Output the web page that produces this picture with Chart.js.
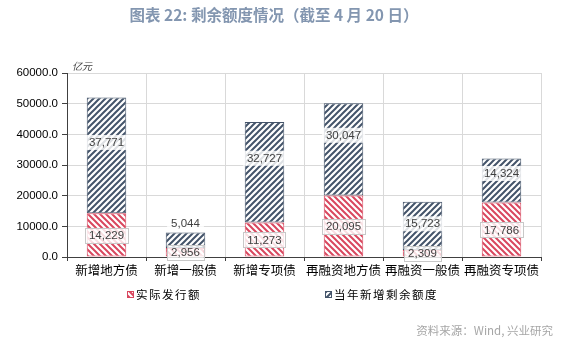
<!DOCTYPE html>
<html>
<head>
<meta charset="utf-8">
<script src="https://cdn.jsdelivr.net/npm/chart.js@4/dist/chart.umd.min.js"></script>
<style>
  html, body { margin: 0; padding: 0; background: #fff; }
  #wrap { width: 566px; height: 342px; position: relative; }
</style>
</head>
<body>
<div id="wrap"><canvas id="c" width="566" height="342"></canvas></div>
<script>
// Remaining local-government bond quota (亿元)
const categories = ['新增地方债', '新增一般债', '新增专项债', '再融资地方债', '再融资一般债', '再融资专项债'];
const issued = [14229, 2956, 11273, 20095, 2309, 17786];          // 实际发行额
const remaining = [37771, 5044, 32727, 30047, 15723, 14324];     // 当年新增剩余额度
const seriesNames = ['实际发行额', '当年新增剩余额度'];
const titleText = '图表 22: 剩余额度情况（截至 4 月 20 日）';
const unitText = '亿元';
const sourceText = '资料来源：Wind, 兴业研究';

// vertical nudges (px) for the upper-segment value labels
const remainingLabelShift = [-13, 0, -14, -14, -2, -7];

const RED = '#d9475e';
const NAVY = '#44546a';
const CJK = '"Noto Sans CJK SC", "Noto Sans", sans-serif';

function hatch(color, forward) {
  const s = 6;
  const c = document.createElement('canvas');
  c.width = s; c.height = s;
  const g = c.getContext('2d');
  g.fillStyle = '#fff';
  g.fillRect(0, 0, s, s);
  g.strokeStyle = color;
  g.lineWidth = 2;
  g.beginPath();
  if (forward) {
    g.moveTo(-1, s + 1); g.lineTo(s + 1, -1);
    g.moveTo(-1, 1); g.lineTo(1, -1);
    g.moveTo(s - 1, s + 1); g.lineTo(s + 1, s - 1);
  } else {
    g.moveTo(-1, -1); g.lineTo(s + 1, s + 1);
    g.moveTo(s - 1, -1); g.lineTo(s + 1, 1);
    g.moveTo(-1, s - 1); g.lineTo(1, s + 1);
  }
  g.stroke();
  return g.createPattern(c, 'repeat');
}

const ctx = document.getElementById('c').getContext('2d');
const redHatch = hatch(RED, false);
const navyHatch = hatch(NAVY, true);

function labelBox(g, text, x, y, bordered) {
  g.font = '11.5px "Liberation Sans", Arial, sans-serif';
  const w = g.measureText(text).width + 8;
  const h = 15;
  g.fillStyle = 'rgba(255,255,255,0.82)';
  g.fillRect(x - w / 2, y - h / 2, w, h);
  if (bordered) {
    g.strokeStyle = '#c8c8c8';
    g.lineWidth = 1;
    g.strokeRect(Math.round(x - w / 2) + 0.5, Math.round(y - h / 2) + 0.5, Math.round(w), h);
  }
  g.fillStyle = '#404040';
  g.textAlign = 'center';
  g.textBaseline = 'middle';
  g.fillText(text, x, y + 0.5);
}

const fmt = v => v.toLocaleString('en-US');

const decorations = {
  id: 'decorations',
  afterDatasetsDraw(chart) {
    const g = chart.ctx;
    g.save();
    // value labels, lower segment
    chart.getDatasetMeta(0).data.forEach((bar, i) => {
      const p = bar.getProps(['x', 'y', 'base'], true);
      labelBox(g, fmt(issued[i]), p.x, (p.y + p.base) / 2 + 0.5, true);
    });
    // value labels, upper segment
    chart.getDatasetMeta(1).data.forEach((bar, i) => {
      const p = bar.getProps(['x', 'y', 'base'], true);
      const segH = p.base - p.y;
      if (segH < 30) {
        labelBox(g, fmt(remaining[i]), p.x, p.y - 9, false);
      } else {
        labelBox(g, fmt(remaining[i]), p.x, (p.y + p.base) / 2 + remainingLabelShift[i], false);
      }
    });
    g.restore();
  },
  afterDraw(chart) {
    const g = chart.ctx;
    const area = chart.chartArea;
    g.save();
    // title
    g.font = 'bold 15.5px ' + CJK;
    g.fillStyle = '#8396b0';
    g.textAlign = 'center';
    g.textBaseline = 'middle';
    g.fillText(titleText, 274, 15);
    // unit
    g.font = 'italic 10px ' + CJK;
    g.fillStyle = '#404040';
    g.textAlign = 'left';
    g.fillText(unitText, area.left + 5, area.top - 7);
    // legend
    const items = [
      { x: 127, fill: redHatch, stroke: RED, text: seriesNames[0] },
      { x: 325, fill: navyHatch, stroke: NAVY, text: seriesNames[1] }
    ];
    const ly = 295;
    items.forEach(it => {
      g.fillStyle = it.fill;
      g.fillRect(it.x, ly - 4, 7, 7);
      g.strokeStyle = it.stroke;
      g.lineWidth = 1;
      g.strokeRect(it.x + 0.5, ly - 3.5, 6, 6);
      g.font = '11.5px ' + CJK;
      g.fillStyle = '#000';
      g.textAlign = 'left';
      g.textBaseline = 'middle';
      if ('letterSpacing' in g) g.letterSpacing = '1.5px';
      g.fillText(it.text, it.x + 9, ly);
      if ('letterSpacing' in g) g.letterSpacing = '0px';
    });
    // source
    g.font = '11.5px ' + CJK;
    g.fillStyle = '#a6a6a6';
    g.textAlign = 'right';
    g.fillText(sourceText, 553, 331);
    g.restore();
  }
};

new Chart(ctx, {
  type: 'bar',
  data: {
    labels: categories,
    datasets: [
      {
        label: seriesNames[0],
        data: issued,
        backgroundColor: redHatch,
        borderColor: RED,
        borderWidth: 1,
        borderSkipped: false,
        barPercentage: 0.5,
        categoryPercentage: 1.0
      },
      {
        label: seriesNames[1],
        data: remaining,
        backgroundColor: navyHatch,
        borderColor: NAVY,
        borderWidth: 1,
        borderSkipped: false,
        barPercentage: 0.5,
        categoryPercentage: 1.0
      }
    ]
  },
  options: {
    responsive: false,
    animation: false,
    devicePixelRatio: 1,
    layout: { padding: { top: 73, bottom: 55, left: 0, right: 25 } },
    plugins: {
      legend: { display: false },
      title: { display: false },
      tooltip: { enabled: false }
    },
    scales: {
      x: {
        stacked: true,
        grid: {
          offset: true,
          color: '#d9d9d9',
          tickColor: '#404040',
          tickLength: 4,
          lineWidth: 1
        },
        border: { color: '#404040', width: 1 },
        ticks: {
          color: '#000',
          font: { family: CJK, size: 12.5 },
          padding: 2,
          maxRotation: 0,
          autoSkip: false
        },
        afterFit(scale) { scale.height = 30; }
      },
      y: {
        stacked: true,
        min: 0,
        max: 60000,
        grid: {
          color: '#d9d9d9',
          tickColor: '#404040',
          tickLength: 5,
          lineWidth: 1
        },
        border: { color: '#404040', width: 1 },
        ticks: {
          stepSize: 10000,
          color: '#000',
          font: { family: '"Liberation Sans", Arial, sans-serif', size: 11.5 },
          padding: 4,
          callback: v => v.toFixed(1)
        },
        afterFit(scale) { scale.width = 67; }
      }
    }
  },
  plugins: [decorations]
});
</script>
</body>
</html>
